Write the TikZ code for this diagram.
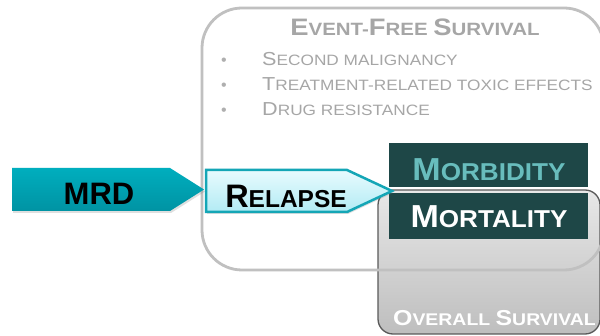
\documentclass[tikz,border=0pt]{standalone}
\usepackage{fontspec}
\setmainfont{Liberation Sans}
\newfontfamily\wfont{Liberation Sans}[FakeStretch=1.15]
\newfontfamily\mfont{Liberation Sans}[FakeStretch=1.07]
\usetikzlibrary{shadows}
\definecolor{efsline}{HTML}{C0C0C0}
\definecolor{efstext}{HTML}{A6A6A6}
\definecolor{ostop}{HTML}{E8E8E8}
\definecolor{osbot}{HTML}{BEBEBE}
\definecolor{osline}{HTML}{5A5A5A}
\definecolor{darkteal}{HTML}{1E4747}
\definecolor{lightteal}{HTML}{68BDBD}
\definecolor{mrdtop}{HTML}{00AEBE}
\definecolor{mrdbot}{HTML}{0093A3}
\definecolor{reltop}{HTML}{E8FBFE}
\definecolor{relbot}{HTML}{B2EBF4}
\definecolor{relline}{HTML}{14A6B6}
\newcommand\Lg[1]{{\fontsize{\lgs}{\lgs}\selectfont #1}}
\newcommand\Sm[1]{{\fontsize{\sms}{\sms}\selectfont #1}}
\def\lgs{20pt}\def\sms{15pt}
\tikzset{
  efsbox/.style={draw=efsline, line width=2.8pt, rounded corners=40pt},
  osbox/.style={draw=osline, line width=1.3pt, rounded corners=15pt, top color=ostop, bottom color=osbot},
  tealbox/.style={fill=darkteal, draw=none},
  mrdarrow/.style={top color=mrdtop, bottom color=mrdbot, draw=none, drop shadow={opacity=0.25, shadow xshift=1pt, shadow yshift=-2pt}},
  relarrow/.style={top color=reltop, bottom color=relbot, draw=relline, line width=2.5pt, line join=miter, drop shadow={opacity=0.25, shadow xshift=1pt, shadow yshift=-2pt}},
  graytitle/.style={text=efstext, inner sep=0pt, font=\wfont\bfseries\def\lgs{23.8pt}\def\sms{17.8pt}},
  grayitem/.style={text=efstext, inner sep=0pt, anchor=base west, font=\wfont\def\lgs{18.8pt}\def\sms{15pt}},
  graydot/.style={text=efstext!90, inner sep=0pt, anchor=base, font=\fontsize{16pt}{16pt}\selectfont},
  boxlabel/.style={inner sep=0pt, anchor=base, font=\mfont\bfseries\def\lgs{31.8pt}\def\sms{24.4pt}},
  arrowlabel/.style={inner sep=0pt, anchor=base, text=black, font=\bfseries\def\lgs{32.5pt}\def\sms{24.5pt}},
}
\begin{document}
\begin{tikzpicture}[x=1pt,y=-1pt]
\clip (0,0) rectangle (600,336);
\fill[white] (0,0) rectangle (600,336);
% Overall survival box
\draw[osbox] (378,190) rectangle (600,334);
\node[inner sep=0pt, anchor=base west, text=white, font=\wfont\bfseries\def\lgs{21.6pt}\def\sms{16.9pt}] (os) at (393,326) {\Lg{O}\Sm{VERALL }\Lg{S}\Sm{URVIVAL}};
% Event-free survival box
\draw[efsbox] (202,8) rectangle (604,270);
\node[graytitle, anchor=base] (efs) at (415,36) {\Lg{E}\Sm{VENT-}\Lg{F}\Sm{REE }\Lg{S}\Sm{URVIVAL}};
\node[graydot] (d1) at (224,66) {•};
\node[graydot] (d2) at (224,91) {•};
\node[graydot] (d3) at (224,116) {•};
\node[grayitem] (i1) at (262,66) {\Lg{S}\Sm{ECOND MALIGNANCY}};
\node[grayitem] (i2) at (262,91) {\Lg{T}\Sm{REATMENT-RELATED TOXIC EFFECTS}};
\node[grayitem] (i3) at (262,116) {\Lg{D}\Sm{RUG RESISTANCE}};
% Morbidity / Mortality
\fill[tealbox] (389,143) rectangle (588,187);
\node[boxlabel, text=lightteal] (morb) at (489,181) {\Lg{M}\Sm{ORBIDITY}};
\fill[tealbox] (389,193) rectangle (588,239);
\node[boxlabel, text=white] (mort) at (489,228) {\Lg{M}\Sm{ORTALITY}};
% Arrows
\path[mrdarrow] (12,168) -- (170,168) -- (204,189.5) -- (170,211) -- (12,211) -- cycle;
\node[inner sep=0pt, anchor=base, text=black, font=\bfseries\fontsize{31pt}{31pt}\selectfont] (mrd) at (99,205) {MRD};
\path[relarrow] (206,170) -- (347,170) -- (392,191) -- (347,212) -- (206,212) -- cycle;
\node[arrowlabel] (rel) at (286,208) {\Lg{R}\Sm{ELAPSE}};
\end{tikzpicture}
\end{document}
